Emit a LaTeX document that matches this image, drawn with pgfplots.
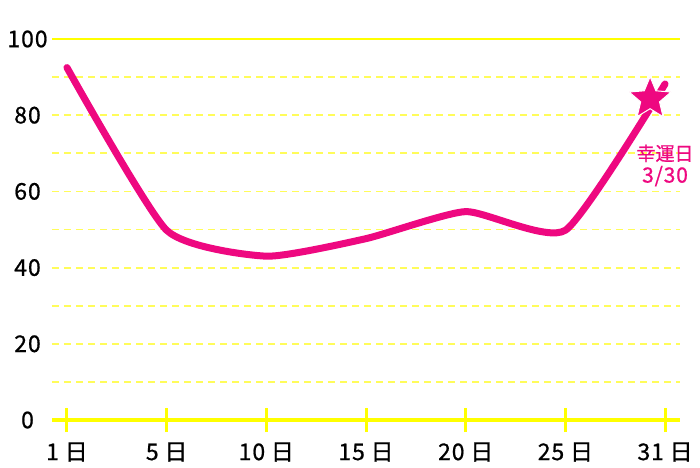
\documentclass[border=0pt]{standalone}
\usepackage{pgfplots}
\pgfplotsset{compat=1.18}
\usepackage{fontspec}
\setmainfont{Noto Sans CJK JP}[FakeBold=1]
\newfontfamily\tkfont{Noto Sans CJK JP}[FakeBold=0.8, LetterSpace=4]
\definecolor{pk}{RGB}{238,8,128}
\definecolor{yl}{RGB}{255,255,0}
\definecolor{lyl}{RGB}{255,252,90}
\pgfdeclareplotmark{fstar}{%
  \pgfpathmoveto{\pgfpointpolar{90}{\pgfplotmarksize}}%
  \pgfpathlineto{\pgfpointpolar{126}{0.45\pgfplotmarksize}}%
  \pgfpathlineto{\pgfpointpolar{162}{\pgfplotmarksize}}%
  \pgfpathlineto{\pgfpointpolar{198}{0.45\pgfplotmarksize}}%
  \pgfpathlineto{\pgfpointpolar{234}{\pgfplotmarksize}}%
  \pgfpathlineto{\pgfpointpolar{270}{0.45\pgfplotmarksize}}%
  \pgfpathlineto{\pgfpointpolar{306}{\pgfplotmarksize}}%
  \pgfpathlineto{\pgfpointpolar{342}{0.45\pgfplotmarksize}}%
  \pgfpathlineto{\pgfpointpolar{18}{\pgfplotmarksize}}%
  \pgfpathlineto{\pgfpointpolar{54}{0.45\pgfplotmarksize}}%
  \pgfpathclose
  \pgfusepathqfillstroke}
\begin{document}
\begin{tikzpicture}
\useasboundingbox (-52pt,-47pt) rectangle (648pt,420pt);
\begin{axis}[
  at={(0,0)}, anchor=south west,
  scale only axis, width=628pt, height=381pt,
  xmin=-0.15, xmax=6.15, ymin=0, ymax=100,
  clip=false,
  axis x line=bottom, axis y line=left,
  x axis line style={-, line width=4pt, color=yl},
  y axis line style={draw=none},
  xtick={0,1,2,3,4,5,6},
  xticklabels={1\hspace{0.25em}日,5\hspace{0.25em}日,10\hspace{0.25em}日,15\hspace{0.25em}日,20\hspace{0.25em}日,25\hspace{0.25em}日,31\hspace{0.25em}日},
  xtick style={line width=3pt, color=yl},
  xtick align=center,
  major tick length=24pt,
  ytick={0,20,40,60,80},
  minor ytick={10,30,50,70,90},
  extra y ticks={100},
  extra y tick style={grid=none},
  ytick style={draw=none},
  minor y tick style={draw=none},
  ymajorgrids, yminorgrids,
  major grid style={dash pattern=on 7pt off 5pt, color=lyl, line width=1.8pt},
  minor grid style={dash pattern=on 7pt off 5pt, color=lyl, line width=1.8pt},
  /pgf/number format/assume math mode=true,
  ticklabel style={font=\tkfont\fontsize{23}{26}\selectfont, text=black},
  yticklabel style={anchor=center, xshift=-12.5pt},
  xticklabel style={anchor=center, yshift=-20pt},
]
\draw[yl, line width=2pt] (axis cs:-0.15,100) -- (axis cs:6.15,100);
\addplot[pk, line width=7pt, smooth, tension=0.33, line cap=round, line join=round] coordinates {
  (0,92.5) (1,49.8) (2,43.0) (3,47.6) (4,54.7) (5,49.8) (6,88.2)
};
\addplot[only marks, mark=fstar, mark size=22pt, mark options={fill=pk, draw=white, line width=1pt}] coordinates {(5.85,84.3)};
\node[text=pk, align=center, font=\fontsize{19}{22}\selectfont] at (axis cs:6,66.8) {幸運日\\{\tkfont\fontsize{21}{22}\selectfont 3/30}};
\end{axis}
\end{tikzpicture}
\end{document}
